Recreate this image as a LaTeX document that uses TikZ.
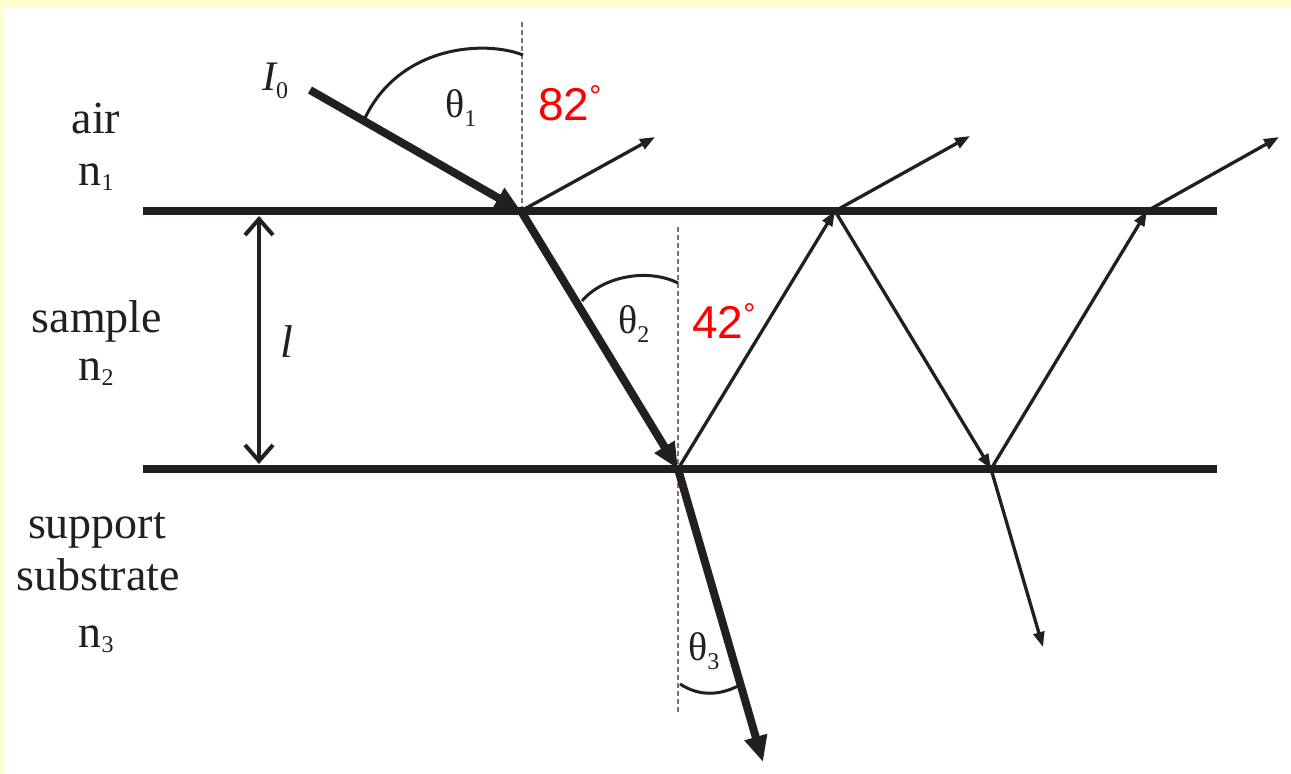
\documentclass[tikz,border=0pt]{standalone}
\usepackage{fontspec}
\setmainfont{Liberation Serif}
\newfontfamily\redsans{Liberation Sans}
\usetikzlibrary{arrows.meta}
\definecolor{ink}{RGB}{35,31,32}
\definecolor{bgyellow}{RGB}{255,255,206}
\definecolor{degred}{RGB}{255,0,0}
\definecolor{dashgray}{RGB}{120,120,120}
\newcommand{\lsub}[2][7pt]{\raisebox{-#1}{\fontsize{24}{24}\selectfont #2}}
\newcommand{\degmark}{\raisebox{14pt}{\fontsize{30}{30}\selectfont °}}
\begin{document}
\begin{tikzpicture}[x=1pt,y=-1pt,
  iface/.style={draw=ink, line width=8.5pt},
  thickray/.style={draw=ink, line width=8pt, -{Triangle[length=26pt,width=22pt]}},
  thinray/.style={draw=ink, line width=3.3pt, -{Triangle[length=15pt,width=11pt]}},
  normal/.style={draw=dashgray, line width=1.2pt, dash pattern=on 5pt off 3pt},
  anglearc/.style={draw=ink, line width=3pt},
  dimarrow/.style={draw=ink, line width=4pt, {Straight Barb[length=16pt,width=28pt,line width=4pt]}-{Straight Barb[length=16pt,width=28pt,line width=4pt]}},
  lbl/.style={inner sep=0pt, anchor=base, text=ink, font=\fontsize{46}{50}\selectfont},
  glbl/.style={inner sep=0pt, anchor=base west, text=ink, font=\fontsize{40}{44}\selectfont},
  rlbl/.style={inner sep=0pt, anchor=base west, text=degred, font=\redsans\fontsize{46}{50}\selectfont}]
% background
\fill[bgyellow] (0,0) rectangle (1291,774);
\fill[white] (4,8) rectangle (1291,774);
\useasboundingbox (0,0) rectangle (1291,774);

% key points
\coordinate (TL) at (143,211);
\coordinate (TR) at (1217,211);
\coordinate (BL) at (143,469);
\coordinate (BR) at (1217,469);
\coordinate (S) at (310,90);
\coordinate (P) at (521,211);
\coordinate (A) at (678,469);
\coordinate (B) at (835,211);
\coordinate (C) at (991,469);
\coordinate (D) at (1147,211);
\coordinate (R1) at (655,137);
\coordinate (R2) at (970,136);
\coordinate (R3) at (1279,137);
\coordinate (T1) at (763,762);
\coordinate (T2) at (1043,647);
\coordinate (N1a) at (522,22);
\coordinate (N1b) at (522,208);
\coordinate (N2a) at (678,227);
\coordinate (N2b) at (678,713);
\coordinate (DimT) at (259,216);
\coordinate (DimB) at (259,464);

% normals
\draw[normal] (N1a) -- (N1b);
\draw[normal] (N2a) -- (N2b);

% interfaces
\draw[iface] (TL) -- (TR);
\draw[iface] (BL) -- (BR);

% thickness arrow
\draw[dimarrow] (DimT) -- (DimB);

% thin rays
\draw[thinray] (P) -- (R1);
\draw[thinray] (A) -- (B);
\draw[thinray] (B) -- (R2);
\draw[thinray] (B) -- (C);
\draw[thinray] (C) -- (D);
\draw[thinray] (D) -- (R3);
\draw[thinray] (C) -- (T2);

% thick rays
\draw[thickray] (S) -- (P);
\draw[thickray] (P) -- (A);
\draw[thickray] (A) -- (T1);

% angle arcs
\draw[anglearc] (365,118) .. controls (400,45) and (485,40) .. (523,55);
\draw[anglearc] (582,301) .. controls (603,276) and (648,268) .. (678,283);
\draw[anglearc] (680,684) .. controls (700,697) and (720,695) .. (738,686);

% labels
\node[lbl] (air) at (96,133) {air};
\node[lbl] (n1) at (96,185) {n\lsub[5pt]{1}};
\node[lbl] (sample) at (97,332) {sample};
\node[lbl] (n2) at (96,380) {n\lsub[5pt]{2}};
\node[lbl] (support) at (97,538) {support};
\node[lbl] (substrate) at (98,590) {substrate};
\node[lbl] (n3) at (96,647) {n\lsub[5pt]{3}};
\node[lbl] (ell) at (287,357) {\itshape l};
\node[inner sep=0pt, anchor=base west, text=ink, font=\fontsize{42}{46}\selectfont] (I0) at (262,90) {\itshape I\upshape\lsub[8pt]{0}};
\node[glbl] (th1) at (445,117) {θ\lsub[9pt]{1}};
\node[glbl] (th2) at (618,333) {θ\lsub[9pt]{2}};
\node[glbl] (th3) at (688,660) {θ\lsub[9pt]{3}};
\node[rlbl] (a82) at (538,120) {82\degmark};
\node[rlbl] (a42) at (692,338) {42\degmark};
\end{tikzpicture}
\end{document}
